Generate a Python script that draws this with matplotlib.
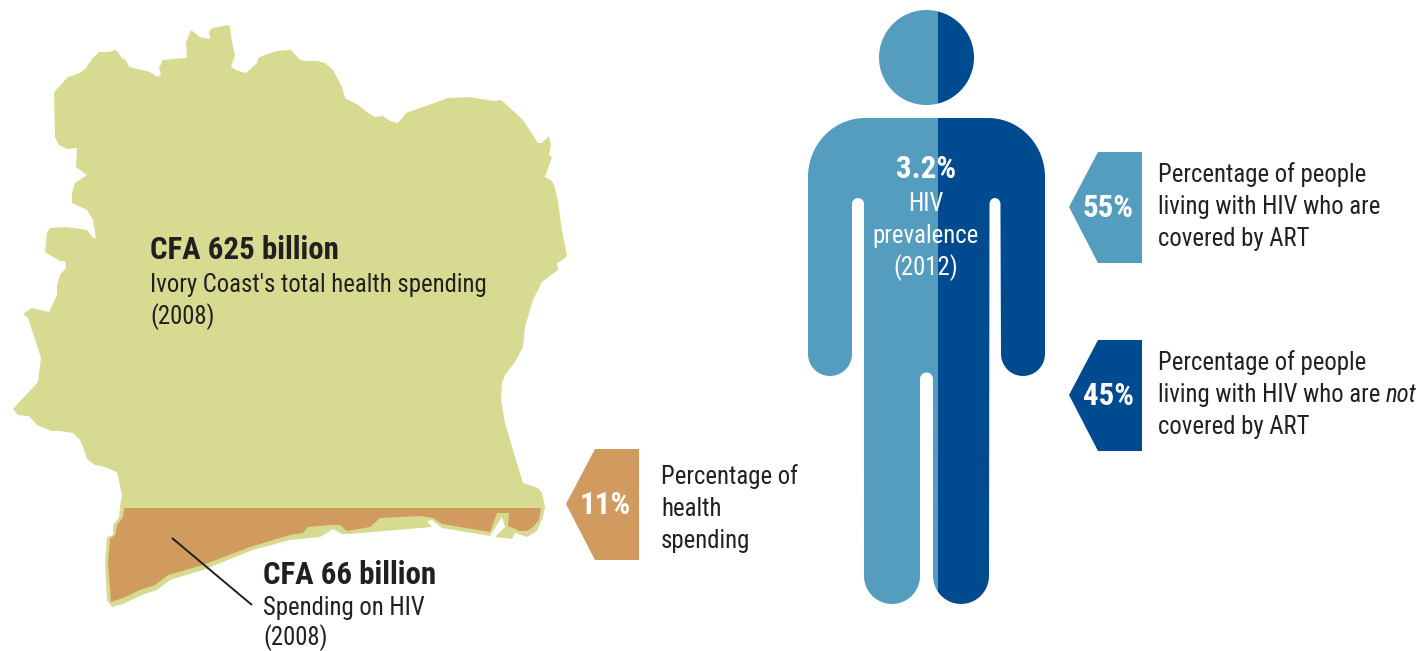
import numpy as np
import matplotlib
matplotlib.use("Agg")
import matplotlib.pyplot as plt
from matplotlib.patches import Polygon, Rectangle, PathPatch, Circle
from matplotlib.path import Path

# figures shown on the graphic
total_spending = 625
hiv_spending = 66
hiv_share = 11
prevalence = 3.2
art_covered = 55
art_not_covered = 45

GREEN = "#D6DB91"
ORANGE = "#D19A5F"
BLUE = "#559DBE"
NAVY = "#004B8F"
INK = "#231F20"
BODY_SIZE = 17.8
BOLD_SIZE = 22.2

plt.rcParams["font.family"] = ["Roboto Condensed", "DejaVu Sans"]

# country outline, clockwise from the north-west corner
map_outline = [
    (54, 93), (56, 90), (68, 77), (80, 73), (86, 68), (92, 59), (99, 52), (108, 52), (116, 50),
    (122, 58), (126, 60), (129, 67), (150, 72), (157, 77), (161, 75), (159, 68), (163, 60),
    (173, 59), (187, 58), (186, 43), (191, 30), (200, 37), (210, 39), (209, 31), (213, 28),
    (228, 25), (230, 27), (232, 42), (235, 55), (231, 67), (238, 71), (246, 73), (257, 63),
    (258, 58), (265, 55), (277, 51), (291, 50), (300, 60), (305, 61), (317, 61), (325, 63),
    (333, 70), (342, 87), (345, 98), (358, 105), (368, 113), (375, 117), (383, 116), (390, 121),
    (398, 123), (406, 113), (437, 102), (448, 98), (468, 97), (494, 101), (501, 100), (510, 108),
    (523, 120), (538, 143), (542, 143), (549, 136), (551, 145), (549, 155), (552, 157), (545, 177),
    (552, 181), (555, 188), (558, 202), (562, 230), (567, 256), (564, 259), (557, 263), (558, 270),
    (542, 282), (533, 300), (525, 327), (523, 347), (515, 362), (505, 375), (502, 383), (501, 400),
    (505, 423), (513, 450), (523, 483), (538, 488), (542, 493), (545, 507), (543, 517), (537, 531),
    (527, 537), (515, 533), (512, 539), (495, 537), (505, 527), (502, 517), (490, 536), (442, 528),
    (432, 520), (427, 521), (432, 527), (350, 534), (342, 534), (333, 529), (320, 537), (290, 540),
    (253, 550), (203, 570), (170, 580), (157, 590), (142, 595), (123, 604), (112, 607), (107, 600),
    (105, 563), (107, 537), (113, 535), (113, 525), (119, 518), (120, 507), (122, 495), (117, 472),
    (102, 466), (95, 465), (87, 459), (85, 452), (80, 440), (73, 433), (60, 431), (52, 431),
    (37, 425), (29, 416), (18, 415), (13, 409), (38, 382), (41, 358), (28, 318), (23, 314),
    (32, 308), (49, 312), (57, 295), (57, 285), (60, 275), (66, 268), (65, 261), (60, 261),
    (45, 252), (47, 232), (50, 228), (67, 227), (87, 230), (93, 238), (96, 238), (93, 220),
    (87, 210), (72, 203), (72, 193), (75, 183), (87, 175), (76, 167), (77, 148), (67, 149),
    (59, 145), (55, 137),
]

# southern band standing for the HIV share of spending
band_outline = [
    (124, 508), (541, 508), (539, 520), (533, 527), (527, 531), (520, 531), (508, 526), (509, 513),
    (497, 513), (490, 532), (442, 524), (433, 518), (420, 516), (380, 518), (370, 527), (347, 531),
    (340, 525), (330, 525), (308, 527), (303, 533), (290, 535), (250, 547), (203, 565), (168, 575),
    (155, 585), (140, 590), (123, 598), (111, 602), (108, 563), (110, 539), (115, 535), (117, 525),
    (123, 517),
]


def arc(cx, cy, rx, ry, start, stop, n=24):
    t = np.radians(np.linspace(start, stop, n))
    return list(zip(cx + rx * np.cos(t), cy + ry * np.sin(t)))


# silhouette from left shoulder round the right side, y pointing down
body = []
body += arc(865, 177, 57, 59, 180, 270)
body += arc(988, 177, 57, 59, 270, 360)
body += arc(1023, 354, 22, 22, 0, 180)
body += arc(995, 204, 5.5, 6, 0, -180)
body += arc(961, 576, 28, 28, 0, 180)
body += arc(926.5, 379, 6.5, 6.5, 0, -180)
body += arc(892, 576, 28, 28, 0, 180)
body += arc(858, 204, 6, 6, 0, -180)
body += arc(830, 354, 22, 22, 0, 180)

fig = plt.figure(figsize=(14.21, 6.51), dpi=100)
ax = fig.add_axes([0, 0, 1, 1])
ax.set_xlim(0, 1421)
ax.set_ylim(651, 0)
ax.axis("off")

ax.add_patch(Polygon(map_outline, closed=True, fc=GREEN, ec="none"))
ax.add_patch(Polygon(band_outline, closed=True, fc=ORANGE, ec="none"))
ax.plot([172, 252], [538, 605], color=INK, lw=1.4, solid_capstyle="butt")

# person split by ART coverage
left_edge, right_edge = 808, 1045
split = left_edge + (right_edge - left_edge) * art_covered / (art_covered + art_not_covered)
silhouette = PathPatch(Path(body + [body[0]]), fc="none", ec="none", transform=ax.transData)
head = Circle((926.5, 57.5), 47.5, fc="none", ec="none", transform=ax.transData)
ax.add_patch(silhouette)
ax.add_patch(head)
for clip in (silhouette, head):
    a = Rectangle((left_edge, 0), split - left_edge, 651, fc=BLUE, ec="none")
    b = Rectangle((split, 0), right_edge - split, 651, fc=NAVY, ec="none")
    for r in (a, b):
        ax.add_patch(r)
        r.set_clip_path(clip)


def callout(right, top, colour, label):
    pts = [(right, top), (right, top + 111), (right - 44, top + 111), (right - 73, top + 55),
           (right - 44, top)]
    ax.add_patch(Polygon(pts, closed=True, fc=colour, ec="none"))
    ax.text(right - 34, top + 65, label, color="white", fontsize=BOLD_SIZE, fontweight="bold",
            ha="center", va="baseline")


def lines(x, y, rows, colour=INK, ha="left", step=32):
    for i, row in enumerate(rows):
        ax.text(x, y + i * step, row, color=colour, fontsize=BODY_SIZE, ha=ha, va="baseline")


ax.text(150, 259, f"CFA {total_spending} billion", color=INK, fontsize=BOLD_SIZE, fontweight="bold", va="baseline")
lines(150, 292, ["Ivory Coast's total health spending", "(2008)"])
ax.text(263, 584, f"CFA {hiv_spending} billion", color=INK, fontsize=BOLD_SIZE, fontweight="bold", va="baseline")
lines(263, 615, ["Spending on HIV", "(2008)"], step=30)

callout(639, 449, ORANGE, f"{hiv_share}%")
lines(661, 484, ["Percentage of", "health", "spending"])

ax.text(926, 178, f"{prevalence}%", color="white", fontsize=BOLD_SIZE, fontweight="bold", ha="center", va="baseline")
lines(926, 211, ["HIV", "prevalence", "(2012)"], colour="white", ha="center")

callout(1142, 152, BLUE, f"{art_covered}%")
lines(1158, 182, ["Percentage of people", "living with HIV who are", "covered by ART"])
callout(1142, 340, NAVY, f"{art_not_covered}%")
lines(1158, 370, ["Percentage of people", "living with HIV who are", "covered by ART"])
ax.text(1386, 402, "not", color=INK, fontsize=BODY_SIZE, fontstyle="italic", va="baseline")

fig.savefig("out.png", dpi=100)
